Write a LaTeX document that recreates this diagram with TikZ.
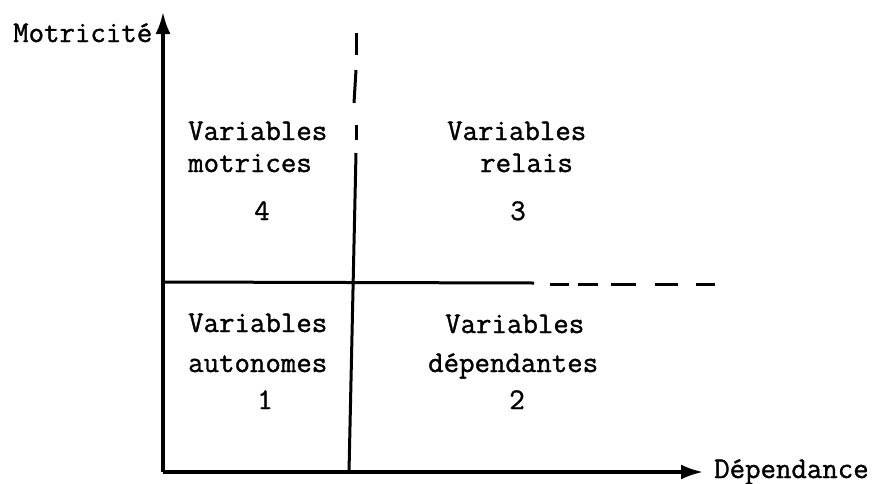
\documentclass[tikz,border=0pt]{standalone}
\usepackage{fontspec}
\newfontfamily\courfont[FakeBold=1.2]{Latin Modern Mono}
\usetikzlibrary{arrows.meta}
\begin{document}
\begin{tikzpicture}[x=1pt,y=-1pt,
  lbl/.style={font=\courfont\fontsize{30}{36}\selectfont, inner sep=0pt, anchor=base west},
  num/.style={font=\courfont\fontsize{30}{36}\selectfont, inner sep=0pt, anchor=base},
  axis/.style={line width=3.2pt, -{Latex[length=22pt,width=15pt]}},
  divider/.style={line width=3pt}]
\useasboundingbox (0,0) rectangle (879,483);
% axes
\coordinate (O) at (163,472);
\coordinate (ytip) at (163,12);
\coordinate (xtip) at (703,472);
\draw[axis] (O) -- (ytip);
\draw[axis] (O) -- (xtip);
\node[lbl] (ylab) at (13,42) {Motricité};
\node[lbl] (xlab) at (714,478) {Dépendance};
% vertical divider
\coordinate (vb) at (349,472);
\coordinate (vs) at (356,153);
\draw[divider] (vb) -- (vs);
\coordinate (v1a) at (356,140); \coordinate (v1b) at (356,125);
\coordinate (v2a) at (354,103); \coordinate (v2b) at (356,70);
\coordinate (v3a) at (356,55); \coordinate (v3b) at (356,33);
\draw[divider] (v1a) -- (v1b);
\draw[divider] (v2a) -- (v2b);
\draw[divider] (v3a) -- (v3b);
% horizontal divider
\coordinate (hl) at (163,282);
\coordinate (hs) at (534,283);
\draw[divider] (hl) -- (hs);
\foreach \a/\b in {550/569, 578/598, 611/636, 655/678, 696/715}
  \draw[divider] (\a,284) -- (\b,284);
% quadrant texts
\node[lbl] (tl1) at (188,140) {Variables};
\node[lbl] (tl2) at (188,172) {motrices};
\node[num] (tl3) at (262,220) {4};
\node[lbl] (tr1) at (447,140) {Variables};
\node[lbl] (tr2) at (480,172) {relais};
\node[num] (tr3) at (518,220) {3};
\node[lbl] (bl1) at (188,332) {Variables};
\node[lbl] (bl2) at (188,372) {autonomes};
\node[num] (bl3) at (265,409) {1};
\node[lbl] (br1) at (445,333) {Variables};
\node[lbl] (br2) at (428,372) {dépendantes};
\node[num] (br3) at (517,409) {2};
\end{tikzpicture}
\end{document}
